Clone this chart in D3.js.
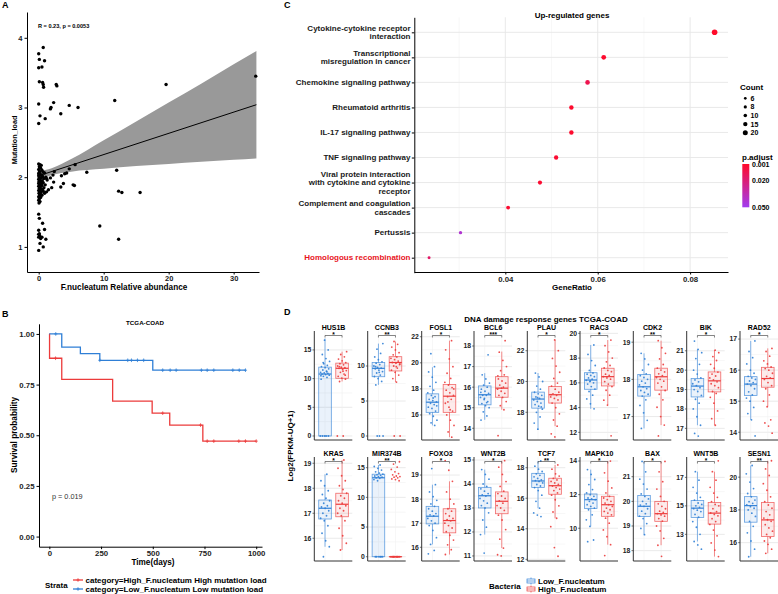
<!DOCTYPE html>
<html><head><meta charset="utf-8">
<script src="https://cdn.jsdelivr.net/npm/d3@7"></script>
<style>
body{margin:0;background:#fff}
svg{display:block}
text{font-family:"Liberation Sans",Arial,Helvetica,sans-serif;font-weight:bold;fill:#000}
</style></head>
<body><svg id="c" width="778" height="594"></svg>
<script>
// ---------------- DATA ----------------
// Panel A scatter
const scatterX = [0.7,0.0,0.1,0.9,0.0,0.5,0.1,0.6,0.7,0.75,2.7,2.8,0.0,0.2,1.0,0.0,2.3,1.9,1.8,3.4,4.7,6.05,11.7,19.6,33.4,
 0.0,0.2,0.4,0.1,0.3,0.0,0.5,0.15,0.7,0.05,0.9,0.25,0.45,0.0,0.6,1.1,0.1,0.35,0.8,0.0,0.2,0.55,1.3,0.05,0.4,0.7,0.0,0.3,0.15,1.0,0.5,0.0,0.25,0.8,0.1,0.4,0.6,0.0,0.2,1.2,0.35,0.05,0.9,0.15,0.5,0.0,0.3,0.1,0.0,0.2,0.05,0.7,1.5,0.0,0.1,1.8,
 1.2,2.2,2.4,2.3,2.0,3.5,4.0,4.3,4.7,5.6,3.8,3.4,5.3,5.5,7.4,12.0,12.3,12.8,15.6,9.4,12.3,
 0.0,0.1,0.6,0.9,0.0,0.0,0.1,0.0,0.3,1.1,0.2,0.7,0.0,0.15,0.5];
const scatterY = [3.86,3.77,3.69,3.67,3.57,3.58,3.37,3.36,3.33,3.29,3.33,3.31,3.05,2.88,2.84,2.77,3.07,3.0,2.98,2.91,3.03,3.0,3.10,3.33,3.45,
 2.19,2.18,2.17,2.15,2.13,2.11,2.10,2.08,2.07,2.06,2.06,2.04,2.03,2.02,2.01,2.0,2.0,1.99,1.98,1.97,1.96,1.95,1.96,1.94,1.93,1.92,1.91,1.90,1.89,1.89,1.88,1.87,1.86,1.85,1.84,1.83,1.82,1.81,1.80,1.79,1.78,1.77,1.77,1.75,1.74,1.72,1.71,1.69,1.67,1.65,1.63,1.80,1.82,2.05,1.92,1.99,
 1.98,2.03,2.08,1.93,1.85,2.02,2.05,2.06,2.12,2.18,1.91,1.86,1.89,1.88,2.07,2.10,1.80,1.78,1.78,1.30,1.11,
 1.47,1.41,1.34,1.25,1.24,1.18,1.19,1.14,1.12,1.11,1.05,1.0,0.95,1.16,1.14];
const fitX = [0, 33.5];
const fitY = [2.02, 3.04];
const bandX  = [0, 2, 5, 10, 15, 20, 25, 30, 33.5];
const bandLo = [1.95, 2.03, 2.08, 2.12, 2.16, 2.19, 2.22, 2.25, 2.27];
const bandHi = [2.09, 2.13, 2.26, 2.53, 2.80, 3.07, 3.34, 3.62, 3.81];
const aXTicks = [0, 10, 20, 30];
const aYTicks = [1, 2, 3, 4];

// Panel B Kaplan-Meier
const redT = [0, 1, 60, 306, 497, 582, 742];
const redS = [1.0, 0.88, 0.776, 0.668, 0.609, 0.55, 0.471];
const redEnd = 1000;
const redCensor = [30, 548, 731, 763, 795, 916, 948, 1000];
const blueT = [0, 60, 150, 244, 500];
const blueS = [1.0, 0.935, 0.903, 0.870, 0.821];
const blueEnd = 948;
const blueCensor = [31, 244, 379, 397, 426, 456, 548, 584, 613, 735, 763, 795, 887, 918, 948];
const bXTicks = [0, 250, 500, 750, 1000];
const bYTicks = [0, 0.25, 0.5, 0.75, 1.0];

// Panel C enrichment
const pathways = ["Cytokine-cytokine receptor\ninteraction","Transcriptional\nmisregulation in cancer","Chemokine signaling pathway","Rheumatoid arthritis","IL-17 signaling pathway","TNF signaling pathway","Viral protein interaction\nwith cytokine and cytokine\nreceptor","Complement and coagulation\ncascades","Pertussis","Homologous recombination"];
const geneRatio = [0.0853, 0.0613, 0.0578, 0.0543, 0.0543, 0.0510, 0.0475, 0.0406, 0.0303, 0.0235];
const counts = [25, 18, 17, 16, 16, 15, 14, 12, 9, 7];
const padj = [0.001, 0.002, 0.010, 0.002, 0.002, 0.003, 0.003, 0.003, 0.042, 0.016];
const cXTicks = [0.04, 0.06, 0.08];
const countLegend = [6, 8, 10, 15, 20];
const padjLegend = [0.001, 0.020, 0.050];

// Panel D boxplots
const genes = ["HUS1B","CCNB3","FOSL1","BCL6","PLAU","RAC3","CDK2","BIK","RAD52",
               "KRAS","MIR374B","FOXO3","WNT2B","TCF7","MAPK10","BAX","WNT5B","SESN1"];
const stars = ["*","**","*","***","*","*","**","*","*","*","**","*","*","**","*","*","*","**"];
const groups = ["Low_F.nucleatum","High_F.nucleatum"];
const yDomains = [[-0.7,18.3],[-0.57,15.0],[14.08,22.44],[13.43,18.73],[16.2,23.28],[11.38,20.19],[16.37,19.3],[16.4,22.02],[13.75,17.26],
                  [15.09,19.25],[-0.72,16.8],[15.43,19.75],[10.79,15.125],[11.89,18.7],[8.05,14.24],[17.58,21.8],[11.13,18.43],[14.88,21.23]];
const yTicks = [[0,5,10,15],[0,5,10],[16,18,20,22],[14,15,16,17,18],[18,20,22],[12,14,16,18,20],[17,18,19],[17,18,19,20,21],[14,15,16,17],
                [16,17,18,19],[0,5,10,15],[16,17,18,19],[11,12,13,14,15],[12,14,16,18],[10,12,14],[18,19,20,21],[13,15,17],[16,18,20]];
// [lower whisker, q1, median, q3, upper whisker]
const lowStats = [[0,0,10.8,12.0,17.0],[7.3,8.47,9.67,10.5,13.2],[15.2,16.2,16.98,17.62,19.66],[14.41,15.14,15.63,16.06,16.68],[16.86,18.27,18.86,19.31,20.55],[13.9,15.48,16.23,16.82,19.06],[16.68,17.55,17.8,18.13,18.7],[17.16,18.62,19.18,19.57,21.07],[14.4,15.18,15.55,15.79,16.94],
                  [15.66,16.77,17.2,17.53,18.56],[0,0,13.3,13.9,15.45],[16.12,16.97,17.29,17.7,18.6],[11.89,13.0,13.51,13.86,14.6],[15.35,16.7,17.13,17.63,18.44],[10.11,11.17,11.7,12.04,13.49],[18.65,19.39,19.8,20.24,21.62],[12.5,14.18,14.84,15.37,17.4],[15.14,17.25,18.26,18.81,20.71]];
const highStats = [[9.5,10.06,11.8,12.7,14.7],[7.7,9.29,10.5,11.33,13.5],[14.3,16.2,17.44,18.34,21.7],[14.9,15.51,15.95,16.51,17.73],[17.1,18.6,19.14,19.68,22.7],[14.22,15.75,16.5,17.18,19.46],[16.77,17.71,18.07,18.3,19.04],[17.16,18.88,19.45,19.91,21.03],[14.82,15.45,15.73,16.09,16.7],
                   [15.53,16.86,17.36,17.8,19.13],[0,0,0,0,0],[15.7,16.6,17.11,17.6,18.74],[11.33,12.76,13.28,13.67,14.97],[14.69,16.26,16.82,17.31,18.18],[9.02,10.71,11.4,11.9,14.0],[18.22,19.19,19.5,20.0,21.62],[11.44,13.72,14.49,15.23,17.4],[15.35,16.37,17.39,18.45,21.0]];
const lowPts = [
 [0,0,0,0,0,9.9,10.2,10.4,10.6,10.7,10.8,10.9,11.0,11.1,11.3,11.5,11.7,11.9,12.1,12.3,12.6,13.0,13.5,14.2,15.0,16.7,10.5,11.2,12.8],
 [0,0,0,7.3,7.8,8.2,8.5,8.7,9.0,9.2,9.4,9.6,9.7,9.8,10.0,10.2,10.4,10.6,10.9,11.3,11.8,12.4,13.2,9.1,9.9],
 [15.2,15.4,15.6,15.9,16.1,16.3,16.5,16.6,16.8,16.9,17.0,17.1,17.2,17.4,17.5,17.7,17.9,18.2,18.5,18.9,19.3,19.7,20.7,16.7,17.3],
 [14.4,14.6,14.8,15.0,15.1,15.2,15.3,15.4,15.5,15.6,15.6,15.7,15.8,15.9,16.0,16.1,16.2,16.4,16.6,17.57,15.45,15.75,15.25],
 [16.9,17.3,17.7,18.0,18.2,18.4,18.5,18.6,18.7,18.8,18.9,19.0,19.1,19.2,19.3,19.5,19.7,20.0,20.3,20.55,18.35,18.95],
 [13.9,14.3,14.7,15.0,15.3,15.5,15.7,15.9,16.0,16.1,16.2,16.3,16.4,16.5,16.6,16.7,16.8,17.0,17.4,17.8,18.3,19.06,16.15],
 [16.68,16.9,17.1,17.3,17.45,17.55,17.6,17.65,17.7,17.75,17.8,17.85,17.9,17.95,18.0,18.05,18.1,18.15,18.25,18.4,18.55,18.7],
 [16.6,16.74,17.16,17.6,18.0,18.3,18.5,18.7,18.9,19.0,19.1,19.2,19.3,19.4,19.5,19.6,19.8,20.0,20.3,20.6,20.9,21.07,21.5],
 [13.88,14.4,14.6,14.8,15.0,15.1,15.2,15.3,15.4,15.5,15.55,15.6,15.65,15.7,15.75,15.8,15.9,16.0,16.2,16.4,16.6,16.94],
 [15.26,15.66,15.9,16.2,16.5,16.7,16.8,16.9,17.0,17.1,17.2,17.25,17.3,17.4,17.5,17.6,17.75,17.9,18.1,18.3,18.56],
 [0,0,0,0,0,0,12.8,13.0,13.2,13.3,13.4,13.5,13.6,13.7,13.8,13.9,14.1,14.3,14.6,14.9,15.2,15.45],
 [15.73,15.87,16.12,16.4,16.7,16.9,17.0,17.1,17.2,17.3,17.35,17.4,17.5,17.6,17.7,17.8,17.95,18.1,18.3,18.6,19.27],
 [11.12,11.89,12.2,12.5,12.8,13.0,13.1,13.2,13.3,13.4,13.5,13.55,13.6,13.7,13.8,13.9,14.0,14.2,14.4,14.6],
 [14.8,14.9,15.04,15.35,15.8,16.2,16.5,16.7,16.8,16.9,17.0,17.1,17.15,17.2,17.3,17.4,17.5,17.6,17.75,17.9,18.1,18.44],
 [9.2,9.3,10.11,10.5,10.8,11.1,11.2,11.3,11.4,11.5,11.6,11.7,11.75,11.8,11.9,12.0,12.1,12.3,12.6,12.9,13.2,13.49],
 [18.65,18.9,19.1,19.3,19.4,19.5,19.6,19.7,19.8,19.85,19.9,20.0,20.1,20.2,20.3,20.5,20.7,20.9,21.2,21.62],
 [11.96,12.26,12.5,13.0,13.5,13.9,14.2,14.4,14.6,14.7,14.8,14.9,15.0,15.1,15.2,15.4,15.6,15.9,16.3,16.8,17.4],
 [15.14,15.6,16.1,16.6,17.0,17.3,17.6,17.8,18.0,18.1,18.2,18.3,18.4,18.5,18.6,18.8,19.0,19.3,19.7,20.2,20.71]];
const highPts = [
 [0,0,9.5,9.9,10.1,10.4,10.8,11.1,11.4,11.6,11.8,11.9,12.0,12.2,12.4,12.6,12.8,13.1,13.4,13.8,14.2,14.7,11.3,12.1,10.6],
 [0,0,7.7,8.2,8.7,9.1,9.4,9.7,10.0,10.2,10.4,10.5,10.7,10.9,11.1,11.3,11.6,11.9,12.3,12.7,13.1,13.5,10.3,9.9],
 [14.3,14.7,15.2,15.6,16.0,16.3,16.6,16.9,17.2,17.4,17.5,17.7,17.9,18.1,18.3,18.5,18.8,19.2,19.7,20.3,21.0,21.7,17.0,18.0,16.4],
 [13.64,14.9,15.1,15.3,15.5,15.6,15.7,15.8,15.9,16.0,16.1,16.2,16.3,16.4,16.6,16.8,17.0,17.3,17.7,18.26,15.95,16.55],
 [16.4,16.6,17.1,17.5,17.9,18.3,18.6,18.8,18.9,19.0,19.1,19.2,19.3,19.5,19.7,19.9,20.2,20.6,21.0,21.5,22.0,22.7,19.15],
 [11.72,14.2,14.6,15.0,15.4,15.7,15.9,16.1,16.3,16.4,16.5,16.6,16.7,16.9,17.0,17.2,17.4,17.7,18.0,18.5,19.0,19.46],
 [16.48,16.77,17.0,17.25,17.45,17.6,17.7,17.8,17.9,17.95,18.0,18.05,18.1,18.15,18.2,18.25,18.3,18.4,18.55,18.7,18.85,19.04],
 [17.16,17.5,17.9,18.3,18.6,18.8,18.9,19.1,19.2,19.3,19.4,19.5,19.6,19.7,19.8,19.9,20.1,20.3,20.5,20.7,20.9,21.03],
 [13.97,14.2,14.3,14.4,14.82,15.0,15.2,15.4,15.5,15.6,15.7,15.75,15.8,15.9,16.0,16.05,16.1,16.2,16.3,16.45,16.6,16.7],
 [15.53,15.8,16.1,16.4,16.7,16.9,17.0,17.1,17.2,17.3,17.4,17.5,17.6,17.7,17.8,17.95,18.1,18.3,18.5,18.8,19.13],
 [0,0,0,0,0,0,0,0,0,0,12.8,13.0,13.1,13.3,13.4,13.5,13.6,13.8,14.0,14.3,14.7,15.1,15.6,16.0],
 [15.7,15.9,16.1,16.3,16.5,16.65,16.8,16.9,17.0,17.1,17.15,17.2,17.3,17.4,17.5,17.6,17.8,18.0,18.3,18.74,19.2,19.6],
 [11.0,11.05,11.33,11.7,12.1,12.5,12.7,12.9,13.0,13.1,13.2,13.3,13.4,13.5,13.6,13.7,13.9,14.1,14.4,14.7,14.97],
 [12.2,12.77,14.14,14.69,15.1,15.5,15.9,16.2,16.35,16.5,16.6,16.7,16.8,16.9,17.0,17.1,17.2,17.3,17.45,17.6,17.9,18.18],
 [8.37,9.02,9.5,9.9,10.3,10.6,10.8,10.9,11.0,11.1,11.2,11.3,11.4,11.5,11.6,11.7,11.8,11.9,12.1,12.4,12.8,13.3,14.0],
 [17.77,18.22,18.5,18.8,19.0,19.2,19.3,19.4,19.45,19.5,19.55,19.6,19.7,19.8,19.9,20.0,20.2,20.5,20.8,21.2,21.62],
 [11.44,11.9,12.4,12.9,13.3,13.7,13.9,14.1,14.3,14.4,14.5,14.6,14.8,15.0,15.1,15.3,15.6,15.9,16.3,16.8,17.4,18.16],
 [15.35,15.6,15.9,16.1,16.3,16.5,16.7,16.9,17.1,17.3,17.4,17.5,17.7,17.9,18.1,18.3,18.5,18.8,19.2,19.6,20.1,20.5,21.0]];

// ---------------- DRAWING ----------------
const svg = d3.select("#c");
const BLUE = "#2f7fd6", RED = "#ec3b3b";

function label(g, x, y, s, size, anchor="start", extra={}) {
  const t = g.append("text").attr("x", x).attr("y", y).attr("font-size", size)
    .attr("text-anchor", anchor).text(s);
  Object.entries(extra).forEach(([k,v]) => t.attr(k, v));
  return t;
}
function styleAxis(g, size, col="#000") {
  g.attr("font-family", null);
  g.selectAll("text").attr("font-size", size).style("font-weight", "bold").style("fill", col);
  g.select(".domain").attr("stroke", "#000").attr("stroke-width", 1);
  g.selectAll(".tick line").attr("stroke", "#000");
}

// ===== Panel A =====
{
  const g = svg.append("g");
  const x = d3.scaleLinear().domain([-1.8, 33.9]).range([27, 259]);
  const y = d3.scaleLinear().domain([0.64, 4.37]).range([272, 12]);
  const area = d3.area().curve(d3.curveMonotoneX)
    .x((d,i) => x(bandX[i])).y0((d,i) => y(bandLo[i])).y1((d,i) => y(bandHi[i]));
  g.append("path").datum(bandX).attr("d", area).attr("fill", "#999999");
  g.append("line").attr("x1", x(fitX[0])).attr("y1", y(fitY[0])).attr("x2", x(fitX[1])).attr("y2", y(fitY[1]))
    .attr("stroke", "#000").attr("stroke-width", 1);
  g.selectAll("circle").data(scatterX).join("circle")
    .attr("cx", (d) => x(d)).attr("cy", (d,i) => y(scatterY[i])).attr("r", 1.7).attr("fill", "#000");
  const gx = g.append("g").attr("transform", "translate(0,272)")
    .call(d3.axisBottom(x).tickValues(aXTicks).tickFormat(d3.format("d")).tickSize(2.5).tickPadding(1.5).tickSizeOuter(0));
  styleAxis(gx, 7.5, "#222");
  const gy = g.append("g").attr("transform", "translate(27,0)")
    .call(d3.axisLeft(y).tickValues(aYTicks).tickFormat(d3.format("d")).tickSize(2.5).tickPadding(2).tickSizeOuter(0));
  styleAxis(gy, 7.5, "#222");
  label(g, 124, 290, "F.nucleatum Relative abundance", 8.2, "middle");
  label(g, 0, 0, "Mutation_load", 7.2, "middle", {transform: "translate(17,140) rotate(-90)"});
  label(g, 38, 28, "R = 0.23, p = 0.0053", 5.6, "start");
  label(g, 2, 8, "A", 9);
}

// ===== Panel B =====
{
  const g = svg.append("g");
  const x = d3.scaleLinear().domain([-50, 1028]).range([39, 262]);
  const y = d3.scaleLinear().domain([-0.05, 1.05]).range([546.7, 323.8]);
  function kmPts(T, S, end) {
    const p = [[T[0], S[0]]];
    for (let i = 1; i < T.length; i++) { p.push([T[i], S[i-1]]); p.push([T[i], S[i]]); }
    p.push([end, S[S.length-1]]);
    return p;
  }
  function survAt(T, S, t) { let s = S[0]; for (let i = 0; i < T.length; i++) if (T[i] <= t) s = S[i]; return s; }
  const line = d3.line().x(d => x(d[0])).y(d => y(d[1]));
  [[redT, redS, redEnd, redCensor, RED], [blueT, blueS, blueEnd, blueCensor, BLUE]].forEach(([T,S,E,C,col]) => {
    g.append("path").datum(kmPts(T,S,E)).attr("d", line).attr("fill", "none").attr("stroke", col).attr("stroke-width", 1.3);
    C.forEach(t => {
      const cx = x(t), cy = y(survAt(T,S,t));
      g.append("path").attr("d", `M${cx-1.6},${cy}H${cx+1.6}M${cx},${cy-1.8}V${cy+1.8}`).attr("stroke", col).attr("stroke-width", 0.8);
    });
  });
  const gx = g.append("g").attr("transform", "translate(0,546.7)")
    .call(d3.axisBottom(x).tickValues(bXTicks).tickFormat(d3.format("d")).tickSize(2.5).tickPadding(1.5).tickSizeOuter(0));
  styleAxis(gx, 7.8, "#222");
  const gy = g.append("g").attr("transform", "translate(39,0)")
    .call(d3.axisLeft(y).tickValues(bYTicks).tickFormat(d3.format(".2f")).tickSize(2.5).tickPadding(2).tickSizeOuter(0));
  styleAxis(gy, 7.8, "#222");
  label(g, 153, 565, "Time(days)", 8.2, "middle");
  label(g, 0, 0, "Survival probability", 8.2, "middle", {transform: "translate(17,435) rotate(-90)"});
  label(g, 145, 325, "TCGA-COAD", 6.2, "middle");
  label(g, 52, 498.5, "p = 0.019", 7.3, "start", {style: "font-weight:normal;fill:#333"});
  label(g, 2, 317, "B", 9);
  // legend
  label(g, 45, 588, "Strata", 8, "start");
  [[RED, 580, "category=High_F.nucleatum High mutation load"], [BLUE, 589, "category=Low_F.nucleatum Low mutation load"]].forEach(([col, yy, s]) => {
    g.append("line").attr("x1", 73).attr("x2", 83).attr("y1", yy).attr("y2", yy).attr("stroke", col).attr("stroke-width", 1.3);
    g.append("path").attr("d", `M76.5,${yy}H79.5M78,${yy-1.8}V${yy+1.8}`).attr("stroke", col).attr("stroke-width", 0.8);
    label(g, 85.5, yy + 2.8, s, 8, "start");
  });
}

// ===== Panel C =====
{
  const g = svg.append("g");
  const x = d3.scaleLinear().domain([0.0203, 0.0882]).range([414.3, 728]);
  const y = d3.scalePoint().domain(pathways).range([17.3, 272.7]).padding(0.6);
  const col = d3.scaleLinear().domain([0.001, 0.05]).range(["#ff0a2a", "#a13cf0"]).interpolate(d3.interpolateRgb);
  const r = d3.scaleSqrt().domain([0, 25]).range([0, 2.8]);
  [0.03, 0.05, 0.07].forEach(v => g.append("line").attr("x1", x(v)).attr("x2", x(v)).attr("y1", 17.3).attr("y2", 272).attr("stroke", "#f3f3f3").attr("stroke-width", 0.6));
  cXTicks.forEach(v => g.append("line").attr("x1", x(v)).attr("x2", x(v)).attr("y1", 17.3).attr("y2", 272).attr("stroke", "#e6e6e6").attr("stroke-width", 0.9));
  pathways.forEach(p => g.append("line").attr("x1", 414.3).attr("x2", 728).attr("y1", y(p)).attr("y2", y(p)).attr("stroke", "#e6e6e6").attr("stroke-width", 0.9));
  g.selectAll("circle.pt").data(pathways).join("circle").attr("class", "pt")
    .attr("cx", (d,i) => x(geneRatio[i])).attr("cy", d => y(d)).attr("r", (d,i) => r(counts[i]))
    .attr("fill", (d,i) => col(padj[i]));
  const gx = g.append("g").attr("transform", "translate(0,272)")
    .call(d3.axisBottom(x).tickValues(cXTicks).tickFormat(d3.format(".2f")).tickSize(2.5).tickPadding(1.5).tickSizeOuter(0));
  styleAxis(gx, 7.8, "#222");
  const gy = g.append("g").attr("transform", "translate(414.3,0)")
    .call(d3.axisLeft(y).tickSize(2.5).tickFormat("").tickSizeOuter(0));
  styleAxis(gy, 7.8);
  pathways.forEach((p, i) => {
    const lines = p.split("\n");
    const t = g.append("text").attr("x", 410.5).attr("text-anchor", "end").attr("font-size", 8)
      .attr("y", y(p) + 2.8 - (lines.length - 1) * 4.3)
      .style("fill", i === 9 ? "#e8141c" : "#1a1a1a");
    lines.forEach((l, k) => t.append("tspan").attr("x", 410.5).attr("dy", k === 0 ? 0 : 8.6).text(l));
  });
  label(g, 572, 289.5, "GeneRatio", 8, "middle");
  label(g, 572, 18, "Up-regulated genes", 8, "middle");
  label(g, 284, 8, "C", 9);
  label(g, 740, 89.5, "Count", 8, "start");
  const ly = d3.scalePoint().domain(countLegend).range([98.3, 132.7]);
  countLegend.forEach(c => {
    g.append("circle").attr("cx", 745.3).attr("cy", ly(c)).attr("r", r(c)).attr("fill", "#000");
    label(g, 750.5, ly(c) + 2.5, String(c), 7, "start");
  });
  label(g, 742, 159.5, "p.adjust", 8, "start");
  const cy = d3.scaleLinear().domain([0.001, 0.05]).range([164, 207.3]);
  const defs = svg.append("defs");
  const grad = defs.append("linearGradient").attr("id", "pg").attr("x1", 0).attr("x2", 0).attr("y1", 0).attr("y2", 1);
  d3.range(0, 1.01, 0.1).forEach(f => grad.append("stop").attr("offset", f).attr("stop-color", col(0.001 + f * 0.049)));
  g.append("rect").attr("x", 742.3).attr("y", 164).attr("width", 7).attr("height", 43.3).attr("fill", "url(#pg)");
  padjLegend.forEach(v => label(g, 752, cy(v) + 2.5, d3.format(".3f")(v), 7, "start"));
}

// ===== Panel D =====
{
  const g = svg.append("g");
  const colX0 = [314.3, 367.7, 421.7, 474, 527.3, 580, 633.3, 686.7, 740];
  const rowTop = [331, 457], rowBot = [440, 561];
  const colors = {"Low_F.nucleatum": BLUE, "High_F.nucleatum": RED};
  genes.forEach((gene, i) => {
    const rI = Math.floor(i / 9), cI = i % 9;
    const x0 = colX0[cI], top = rowTop[rI], bot = rowBot[rI];
    const xs = d3.scalePoint().domain(groups).range([x0 + 0.5, x0 + 38]).padding(0.6);
    const ys = d3.scaleLinear().domain(yDomains[i]).range([bot, top]);
    const p = g.append("g");
    const tk = yTicks[i];
    for (let k = 0; k < tk.length - 1; k++) {
      const mv = (tk[k] + tk[k+1]) / 2;
      p.append("line").attr("x1", x0).attr("x2", x0 + 38).attr("y1", ys(mv)).attr("y2", ys(mv)).attr("stroke", "#f2f2f2").attr("stroke-width", 0.6);
    }
    tk.forEach(v => p.append("line").attr("x1", x0).attr("x2", x0 + 38).attr("y1", ys(v)).attr("y2", ys(v)).attr("stroke", "#e4e4e4").attr("stroke-width", 0.8));
    groups.forEach(v => p.append("line").attr("x1", xs(v)).attr("x2", xs(v)).attr("y1", top).attr("y2", bot).attr("stroke", "#f0f0f0").attr("stroke-width", 0.6));
    [[groups[0], lowStats[i], lowPts[i]], [groups[1], highStats[i], highPts[i]]].forEach(([grp, st, pts]) => {
      const c = colors[grp], cx = xs(grp), hw = 6.3;
      p.append("line").attr("x1", cx).attr("x2", cx).attr("y1", ys(st[0])).attr("y2", ys(st[1])).attr("stroke", c).attr("stroke-opacity", 0.75).attr("stroke-width", 0.8);
      p.append("line").attr("x1", cx).attr("x2", cx).attr("y1", ys(st[3])).attr("y2", ys(st[4])).attr("stroke", c).attr("stroke-opacity", 0.75).attr("stroke-width", 0.8);
      p.append("rect").attr("x", cx - hw).attr("width", 2 * hw).attr("y", ys(st[3])).attr("height", Math.max(0.01, ys(st[1]) - ys(st[3])))
        .attr("fill", c).attr("fill-opacity", 0.1).attr("stroke", c).attr("stroke-opacity", 0.75).attr("stroke-width", 0.8);
      p.selectAll(null).data(pts).join("circle")
        .attr("cx", (d, k) => cx + (((k * 0.618034 + i * 0.37) % 1) - 0.5) * 9.5)
        .attr("cy", d => ys(d)).attr("r", 0.9).attr("fill", c).attr("fill-opacity", 0.9);
      p.append("line").attr("x1", cx - hw).attr("x2", cx + hw).attr("y1", ys(st[2])).attr("y2", ys(st[2])).attr("stroke", c).attr("stroke-width", 1.2);
    });
    p.append("line").attr("x1", x0).attr("x2", x0).attr("y1", top).attr("y2", bot).attr("stroke", "#333").attr("stroke-width", 1);
    p.append("line").attr("x1", x0).attr("x2", x0 + 38).attr("y1", bot).attr("y2", bot).attr("stroke", "#333").attr("stroke-width", 1);
    tk.forEach(v => {
      p.append("line").attr("x1", x0 - 1.8).attr("x2", x0).attr("y1", ys(v)).attr("y2", ys(v)).attr("stroke", "#333").attr("stroke-width", 0.7);
      label(p, x0 - 3, ys(v) + 2.4, String(v), 6.8, "end", {style: "fill:#222"});
    });
    label(p, x0 + 19.2, top - 1, gene, 7, "middle");
    const bx1 = xs(groups[0]), bx2 = xs(groups[1]), by = top + 4.5;
    p.append("path").attr("d", `M${bx1},${by + 2}V${by}H${bx2}V${by + 2}`).attr("fill", "none").attr("stroke", "#333").attr("stroke-width", 0.6);
    label(p, (bx1 + bx2) / 2, top + 5.6, stars[i], 6.5, "middle");
  });
  label(g, 546, 321.5, "DNA damage response genes TCGA-COAD", 8, "middle");
  label(g, 0, 0, "Log2(FPKM-UQ+1)", 8, "middle", {transform: "translate(293,446) rotate(-90)"});
  label(g, 284, 315, "D", 9);
  label(g, 489, 589, "Bacteria", 8, "start");
  [[BLUE, 577.5, "Low_F.nucleatum"], [RED, 585.5, "High_F.nucleatum"]].forEach(([c, yy, s]) => {
    g.append("line").attr("x1", 531).attr("x2", 531).attr("y1", yy).attr("y2", yy + 7).attr("stroke", c).attr("stroke-width", 0.7);
    g.append("rect").attr("x", 527).attr("y", yy + 1.5).attr("width", 8).attr("height", 4).attr("fill", "#fff").attr("stroke", c).attr("stroke-width", 0.7);
    g.append("line").attr("x1", 527).attr("x2", 535).attr("y1", yy + 3.5).attr("y2", yy + 3.5).attr("stroke", c).attr("stroke-width", 0.7);
    label(g, 538, yy + 6.3, s, 8, "start");
  });
}
</script>
</body></html>
